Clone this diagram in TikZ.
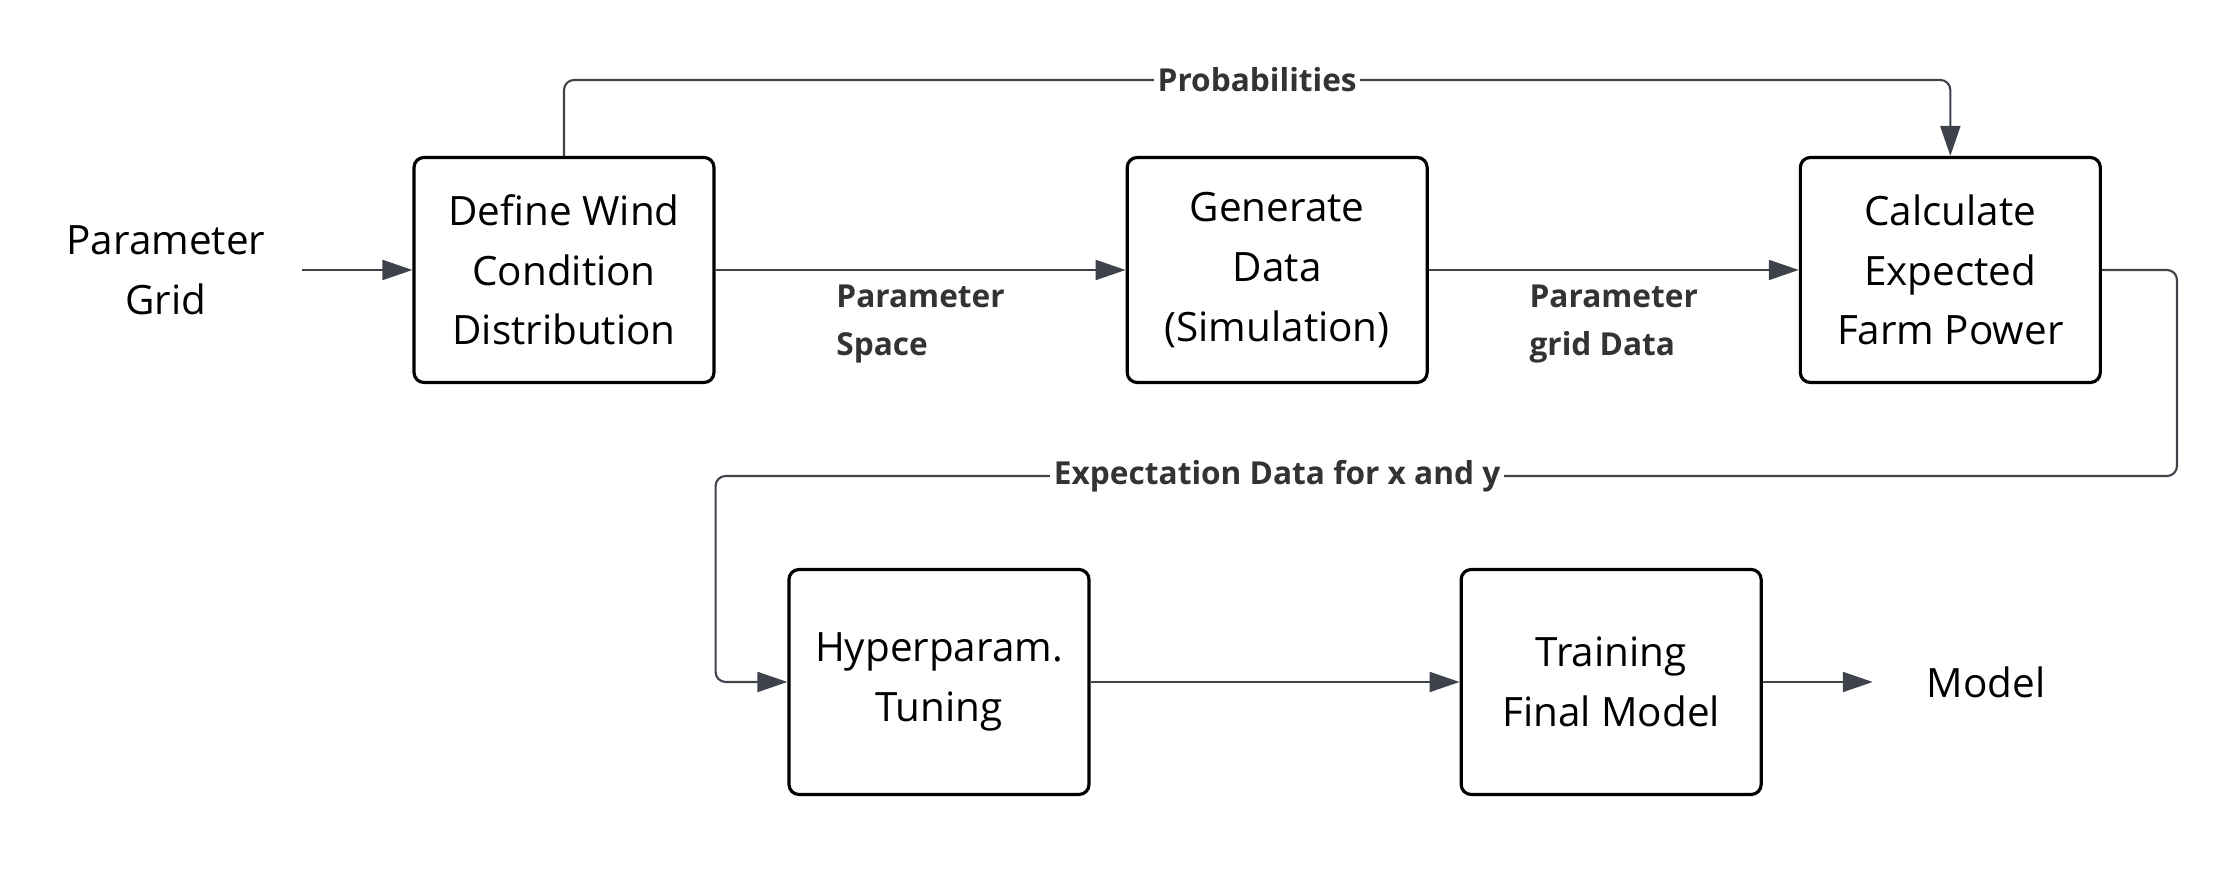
\documentclass[tikz,border=0pt]{standalone}
\usepackage{fontspec}
\setmainfont{Open Sans}
\usetikzlibrary{arrows.meta,positioning}
\definecolor{linkgray}{HTML}{3D424B}
\definecolor{taggray}{HTML}{333333}
\begin{document}
\begin{tikzpicture}[
      box/.style={draw=black, line width=0.9pt, rounded corners=0.1cm, minimum width=3cm, minimum height=2.25cm, align=center, font=\fontsize{11.5}{17}\selectfont},
      plain/.style={align=center, inner sep=0pt, font=\fontsize{11.5}{17}\selectfont},
      flow/.style={draw=linkgray, line width=0.6pt, rounded corners=0.1cm, -{Triangle[length=0.3cm, width=0.2cm]}},
      tag/.style={align=left, inner sep=4pt, text=taggray, font=\bfseries\fontsize{9}{13.7}\selectfont},
      midtag/.style={fill=white, inner sep=1pt, text=taggray, font=\bfseries\fontsize{9}{13.7}\selectfont}
    ]
    \useasboundingbox (0,0) rectangle (22.39,8.81);
    % upper row
    \node[box] (define) at (5.64,6.11) {Define Wind\\Condition\\Distribution};
    \node[box, right=4.10cm of define] (generate) {Generate\\Data\\(Simulation)};
    \node[box, right=3.70cm of generate] (expect) {Calculate\\Expected\\Farm Power};
    \node[plain, outer xsep=0.37cm] (grid) at (1.66,6.11) {Parameter\\Grid};
    % lower row
    \node[box] (tuning) at (9.39,1.99) {Hyperparam.\\Tuning};
    \node[box, right=3.69cm of tuning] (final) {Training\\Final Model};
    \node[plain, outer xsep=0.54cm, right=1.10cm of final] (model) {Model};
    % turning points
    \coordinate (top) at (0,8.01);
    \coordinate (turn) at (21.77,4.05);
    % connectors
    \draw[flow] (grid) -- (define);
    \draw[flow] (define) -- node[tag, below] {Parameter\\Space} (generate);
    \draw[flow] (generate) -- node[tag, below] {Parameter\\grid Data} (expect);
    \draw[flow] (define.north) -- (define |- top) -- node[midtag] {Probabilities} (expect |- top) -- (expect.north);
    \draw[flow] (expect.east) -- (expect.east -| turn) -- (turn) -- (define.east |- turn) -- (define.east |- tuning) -- (tuning.west);
    \node[midtag] (exptag) at (generate |- turn) {Expectation Data for x and y};
    \draw[flow] (tuning) -- (final);
    \draw[flow] (final) -- (model);
\end{tikzpicture}
\end{document}
